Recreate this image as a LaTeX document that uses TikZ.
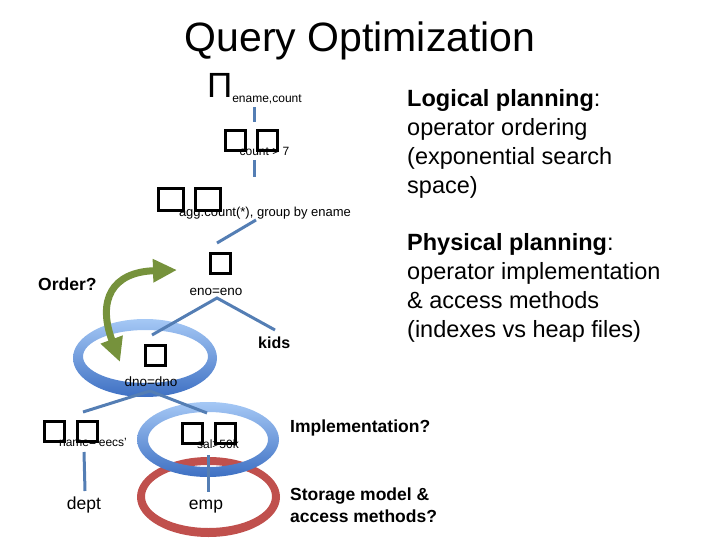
\documentclass[tikz,border=0pt]{standalone}
\usepackage{fontspec}
\setmainfont{Liberation Sans}
\usetikzlibrary{arrows.meta}
\pgfdeclarelayer{bg}
\pgfsetlayers{bg,main}
\definecolor{edgeblue}{RGB}{84,126,180}
\definecolor{ringlight}{RGB}{165,200,245}
\definecolor{ringdark}{RGB}{62,112,195}
\definecolor{ringred}{RGB}{192,80,77}
\definecolor{arrowgreen}{RGB}{118,146,60}
\tikzstyle{glyph}=[draw=black, line width=3pt, minimum width=20pt, minimum height=20pt, inner sep=0pt]
\tikzstyle{wideglyph}=[glyph, minimum width=25pt, minimum height=22pt]
\tikzstyle{wire}=[-, line width=3pt, draw=edgeblue]
\tikzstyle{cond}=[font=\fontsize{12}{14}\selectfont, inner sep=0pt, anchor=base]
\tikzstyle{rel}=[font=\fontsize{17.5}{20}\selectfont, inner sep=0pt, anchor=base]
\tikzstyle{ask}=[font=\fontsize{17.5}{22}\selectfont\bfseries, inner sep=0pt, align=left]
\tikzstyle{note}=[font=\fontsize{23.5}{29}\selectfont, inner sep=0pt, align=left, anchor=north west]
\tikzstyle{orderarrow}=[draw=arrowgreen, line width=7pt, <->, >={Triangle[length=24pt, width=22pt]}]

\begin{document}
\begin{tikzpicture}[x=1pt, y=-1pt]
    \useasboundingbox (0,0) rectangle (720,540);
    \node [font=\fontsize{41}{48}\selectfont, anchor=base, inner sep=0pt] (title) at (360,52) {Query Optimization};

    % plan tree
    \node [font=\fontsize{35}{40}\selectfont, anchor=base west, inner sep=0pt] (proj) at (207,98) {Π};
    \node [cond] (projc) at (267,103) {ename,count};
    \node [glyph] (sel1) at (235.5,141) {};
    \node [glyph] (sel2) at (267.5,141) {};
    \node [cond] (selc) at (264.5,156) {count > 7};
    \node [wideglyph] (agg1) at (171,199.5) {};
    \node [wideglyph] (agg2) at (207.5,199.5) {};
    \node [cond, font=\fontsize{13}{15}\selectfont] (aggc) at (265,217) {agg:count(*), group by ename};
    \node [glyph] (join1) at (220.5,263.5) {};
    \node [cond, font=\fontsize{13.5}{15}\selectfont] (join1c) at (216,295) {eno=eno};
    \node [glyph] (join2) at (155.5,355) {};
    \node [cond, font=\fontsize{13.5}{15}\selectfont] (join2c) at (151,386) {dno=dno};
    \node [glyph] (dsel1) at (54,431.5) {};
    \node [glyph] (dsel2) at (87,431.5) {};
    \node [cond] (dselc) at (93,446) {name=`eecs'};
    \node [glyph] (esel1) at (192.5,433) {};
    \node [glyph] (esel2) at (225,433) {};
    \node [cond] (eselc) at (218,448) {sal>50k};
    \node [font=\fontsize{16}{18}\selectfont\bfseries, anchor=base west, inner sep=0pt] (kids) at (258,348) {kids};
    \node [rel] (dept) at (84,509) {dept};
    \node [rel] (emp) at (206,509) {emp};

    \coordinate (projb) at (254,107);
    \coordinate (selt) at (254,122);
    \coordinate (selb) at (254,160);
    \coordinate (aggt) at (254,177);
    \coordinate (aggb) at (256,220);
    \coordinate (j1t) at (217,243);
    \coordinate (j1b) at (217,298);
    \coordinate (j2t) at (152,335);
    \coordinate (kidst) at (275,330);
    \coordinate (j2b) at (150,391);
    \coordinate (dselt) at (83,412);
    \coordinate (eselt) at (207,413);
    \coordinate (dselb) at (84,452);
    \coordinate (deptt) at (85,491);
    \coordinate (eselb) at (208,455);
    \coordinate (empt) at (208,492);

    \draw [wire] (projb) -- (selt);
    \draw [wire] (selb) -- (aggt);
    \draw [wire] (aggb) -- (j1t);
    \draw [wire] (j2t) -- (j1b) -- (kidst);
    \draw [wire] (dselt) -- (j2b) -- (eselt);
    \draw [wire] (dselb) -- (deptt);
    \draw [wire] (eselb) -- (empt);

    \draw [orderarrow] (120,362) .. controls (97,300) and (112,272) .. (177,270);

    % questions and notes
    \node [ask, anchor=base west] (order) at (38,290) {Order?};
    \node [ask, anchor=base west] (impl) at (290,432) {Implementation?};
    \node [ask, anchor=north west] (store) at (290,487.5) {Storage model \&\\access methods?};
    \node [note] (logical) at (407,89.5) {\textbf{Logical planning}:\\operator ordering\\(exponential search\\space)};
    \node [note] (physical) at (407,233.5) {\textbf{Physical planning}:\\operator implementation\\\& access methods\\(indexes vs heap files)};

    \begin{pgfonlayer}{bg}
        \fill [ringred, even odd rule] (208.5,497) ellipse [x radius=71.5, y radius=40] (208.5,496.5) ellipse [x radius=63.5, y radius=31.5];
        \shade [top color=ringlight, bottom color=ringdark, even odd rule] (208,439.5) ellipse [x radius=71, y radius=37.5] (208,439.5) ellipse [x radius=60, y radius=27.5];
        \shade [top color=ringlight, bottom color=ringdark, even odd rule] (145,358) ellipse [x radius=72, y radius=39] (145.5,356.5) ellipse [x radius=62.5, y radius=26.5];
    \end{pgfonlayer}
\end{tikzpicture}
\end{document}
